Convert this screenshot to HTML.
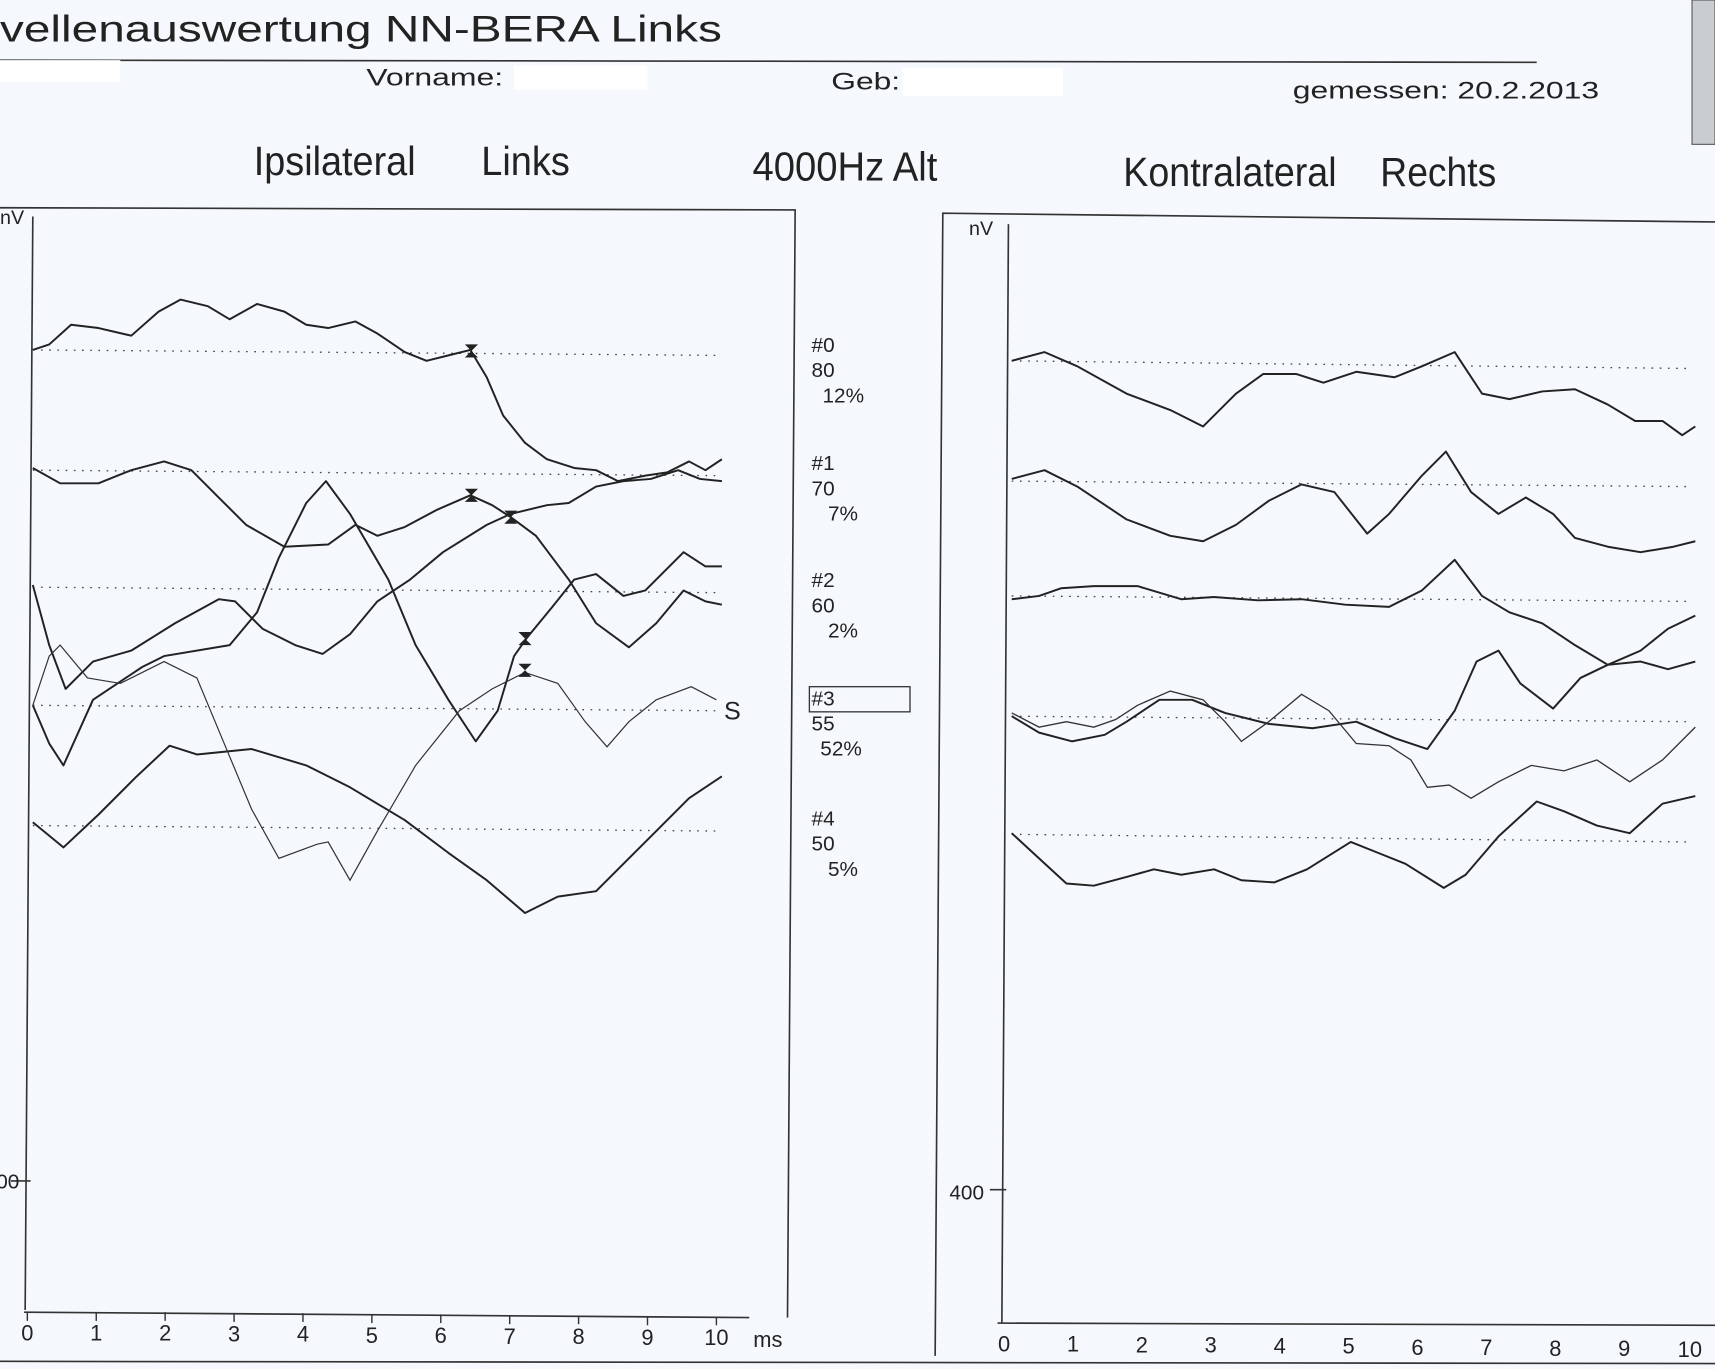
<!DOCTYPE html>
<html><head><meta charset="utf-8"><style>
html,body{margin:0;padding:0;background:#f5f8fc;}
svg{display:block}
text{font-family:"Liberation Sans",sans-serif;fill:#222}
</style></head><body>
<svg width="1715" height="1369" viewBox="0 0 1568 1252" preserveAspectRatio="none" xmlns="http://www.w3.org/2000/svg">
<rect width="1568" height="1252" fill="#f5f8fc"/>
<text x="0" y="38" font-size="34" textLength="660" lengthAdjust="spacingAndGlyphs">vellenauswertung NN-BERA Links</text>
<line x1="0" y1="55" x2="1405" y2="57" stroke="#333" stroke-width="1.5"/>
<rect x="0" y="55" width="110" height="20" fill="#fff"/>
<rect x="470" y="60" width="122" height="22" fill="#fff"/>
<rect x="825" y="62" width="147" height="26" fill="#fff"/>
<text x="335" y="78" font-size="22" textLength="125" lengthAdjust="spacingAndGlyphs">Vorname:</text>
<text x="760" y="82" font-size="22" textLength="63" lengthAdjust="spacingAndGlyphs">Geb:</text>
<text x="1182" y="90" font-size="22" textLength="280" lengthAdjust="spacingAndGlyphs">gemessen: 20.2.2013</text>
<rect x="1547" y="0" width="21" height="132" fill="#c9ccd0" stroke="#555"/>
<g font-size="37">
<text x="232" y="160" textLength="148" lengthAdjust="spacingAndGlyphs">Ipsilateral</text>
<text x="440" y="160" textLength="81" lengthAdjust="spacingAndGlyphs">Links</text>
<text x="688" y="165" textLength="169" lengthAdjust="spacingAndGlyphs">4000Hz Alt</text>
<text x="1027" y="170" textLength="195" lengthAdjust="spacingAndGlyphs">Kontralateral</text>
<text x="1262" y="170" textLength="106" lengthAdjust="spacingAndGlyphs">Rechts</text>
</g>
<g stroke="#333" fill="none" stroke-width="1.5">
<polyline points="0,190 727,192 720,1205"/>
<line x1="30" y1="198" x2="23" y2="1198"/>
<line x1="22" y1="1200" x2="685" y2="1205"/>
<line x1="10" y1="1080" x2="28" y2="1080"/>
<polyline points="855,1240 862,195 1568,203"/>
<line x1="922" y1="205" x2="916" y2="1210"/>
<line x1="912" y1="1210" x2="1568" y2="1212"/>
<line x1="905" y1="1088" x2="920" y2="1088"/>
<line x1="0" y1="1245" x2="1568" y2="1247"/>
</g>
<g stroke="#333" stroke-width="1.3">
<line x1="25" y1="1200" x2="25" y2="1208"/><line x1="88" y1="1200" x2="88" y2="1208"/><line x1="151" y1="1200" x2="151" y2="1208"/><line x1="214" y1="1201" x2="214" y2="1209"/><line x1="277" y1="1201" x2="277" y2="1209"/><line x1="340" y1="1202" x2="340" y2="1210"/><line x1="403" y1="1202" x2="403" y2="1210"/><line x1="466" y1="1203" x2="466" y2="1211"/><line x1="529" y1="1203" x2="529" y2="1211"/><line x1="592" y1="1204" x2="592" y2="1212"/><line x1="655" y1="1204" x2="655" y2="1212"/>
</g>
<g font-size="20" text-anchor="middle">
<text x="25" y="1226">0</text><text x="88" y="1226">1</text><text x="151" y="1226">2</text><text x="214" y="1227">3</text><text x="277" y="1227">4</text><text x="340" y="1228">5</text><text x="403" y="1228">6</text><text x="466" y="1229">7</text><text x="529" y="1229">8</text><text x="592" y="1230">9</text><text x="655" y="1230">10</text>
<text x="702" y="1232">ms</text>
<text x="918" y="1236">0</text><text x="981" y="1236">1</text><text x="1044" y="1237">2</text><text x="1107" y="1237">3</text><text x="1170" y="1238">4</text><text x="1233" y="1238">5</text><text x="1296" y="1239">6</text><text x="1359" y="1239">7</text><text x="1422" y="1240">8</text><text x="1485" y="1240">9</text><text x="1545" y="1241">10</text>
</g>
<text x="0" y="205" font-size="18">nV</text>
<text x="886" y="215" font-size="18">nV</text>
<text x="-14" y="1087" font-size="19">400</text>
<text x="868" y="1097" font-size="19">400</text>
<g stroke="#444" stroke-width="1.2" stroke-dasharray="1.5,6">
<line x1="30" y1="320" x2="655" y2="325"/><line x1="30" y1="430" x2="655" y2="435"/><line x1="30" y1="537" x2="655" y2="542"/><line x1="30" y1="645" x2="655" y2="650"/><line x1="30" y1="755" x2="655" y2="760"/>
<line x1="925" y1="330" x2="1545" y2="337"/><line x1="925" y1="440" x2="1545" y2="445"/><line x1="925" y1="545" x2="1545" y2="550"/><line x1="925" y1="655" x2="1545" y2="660"/><line x1="925" y1="763" x2="1545" y2="770"/>
</g>
<g fill="none" stroke="#222" stroke-width="1.8" stroke-linejoin="round">
<polyline points="30,320 45,315 65,297 90,300 120,307 145,285 165,274 190,280 210,292 235,278 260,285 280,297 300,300 325,294 345,305 370,322 390,330 410,325 430,320 445,345 460,380 480,405 500,420 525,428 545,430 565,440 590,435 610,432 630,422 645,430 660,420"/>
<polyline points="30,428 55,442 90,442 120,430 150,422 175,430 200,455 225,480 260,500 300,498 325,480 345,490 370,482 400,466 430,453 450,462 467,473 490,490 520,530 545,570 575,592 600,570 625,540 645,550 660,553"/>
<polyline points="30,535 45,590 60,630 85,605 120,595 160,570 200,548 215,550 240,575 270,590 295,598 320,580 345,550 375,530 405,505 445,480 467,470 500,462 520,460 545,445 570,440 595,438 620,430 640,438 660,440"/>
<polyline points="30,645 45,680 58,700 85,640 130,610 150,600 210,590 235,560 255,510 280,460 298,440 320,470 355,530 380,590 410,640 435,678 455,650 470,600 482,583 505,555 525,530 545,525 570,545 590,540 610,520 625,505 645,518 660,518"/>
<polyline points="30,752 58,775 90,745 125,710 155,682 180,690 230,685 280,700 320,720 370,750 410,780 445,805 480,835 510,820 545,815 570,790 600,760 630,730 660,710"/>
</g>
<polyline fill="none" stroke="#333" stroke-width="1.1" points="30,645 45,600 55,590 80,620 110,625 150,605 180,620 205,680 230,740 255,785 290,772 300,770 320,805 345,760 380,700 420,650 450,630 480,615 510,625 535,660 555,683 575,660 600,640 632,628 655,640"/>
<g fill="#222">
<path d="M425,315 h12 l-6,6 z M425,327 h12 l-6,-6 z"/>
<path d="M425,447 h12 l-6,6 z M425,459 h12 l-6,-6 z"/>
<path d="M461,467 h12 l-6,6 z M461,479 h12 l-6,-6 z"/>
<path d="M474,578 h12 l-6,6 z M474,590 h12 l-6,-6 z"/>
<path d="M474,607 h12 l-6,6 z M474,619 h12 l-6,-6 z"/>
</g>
<g font-size="19">
<text x="742" y="322">#0</text><text x="742" y="345">80</text><text x="752" y="368">12%</text>
<text x="742" y="430">#1</text><text x="742" y="453">70</text><text x="757" y="476">7%</text>
<text x="742" y="537">#2</text><text x="742" y="560">60</text><text x="757" y="583">2%</text>
<text x="742" y="645">#3</text><text x="742" y="668">55</text><text x="750" y="691">52%</text>
<text x="742" y="755">#4</text><text x="742" y="778">50</text><text x="757" y="801">5%</text>
</g>
<rect x="740" y="628" width="92" height="23" fill="none" stroke="#333" stroke-width="1.2"/>
<text x="662" y="658" font-size="23">S</text>
<g fill="none" stroke="#222" stroke-width="1.8" stroke-linejoin="round">
<polyline points="925,330 955,322 985,335 1030,360 1070,375 1100,390 1130,360 1155,342 1185,342 1210,350 1240,340 1275,345 1300,335 1330,322 1355,360 1380,365 1410,358 1440,356 1470,370 1495,385 1520,385 1538,398 1550,390"/>
<polyline points="925,438 955,430 985,445 1030,475 1070,490 1100,495 1130,480 1160,458 1190,443 1220,450 1250,488 1270,470 1300,435 1322,413 1345,450 1370,470 1395,455 1420,470 1440,492 1470,500 1500,505 1530,500 1550,495"/>
<polyline points="925,548 950,545 970,538 1000,536 1040,536 1080,548 1110,546 1150,549 1190,548 1230,553 1270,555 1300,540 1330,512 1355,545 1380,560 1410,570 1440,590 1470,608 1500,595 1525,575 1550,563"/>
<polyline points="925,655 950,670 980,678 1010,672 1030,660 1060,640 1090,640 1120,652 1160,662 1200,666 1240,660 1275,675 1305,685 1330,650 1350,605 1370,595 1390,625 1420,648 1445,620 1470,608 1500,605 1525,612 1550,605"/>
<polyline points="925,762 950,785 975,808 1000,810 1030,802 1055,795 1080,800 1110,795 1135,805 1165,807 1195,795 1235,770 1260,780 1285,790 1320,812 1340,800 1370,765 1405,733 1430,742 1460,755 1490,762 1520,735 1550,728"/>
</g>
<polyline fill="none" stroke="#333" stroke-width="1.2" points="925,652 950,665 975,660 1000,665 1020,658 1040,645 1070,632 1100,640 1120,660 1135,678 1160,660 1190,635 1215,650 1240,680 1270,682 1290,695 1305,720 1325,718 1345,730 1370,715 1400,700 1430,705 1460,695 1490,715 1520,695 1550,665"/>
</svg>
</body></html>
